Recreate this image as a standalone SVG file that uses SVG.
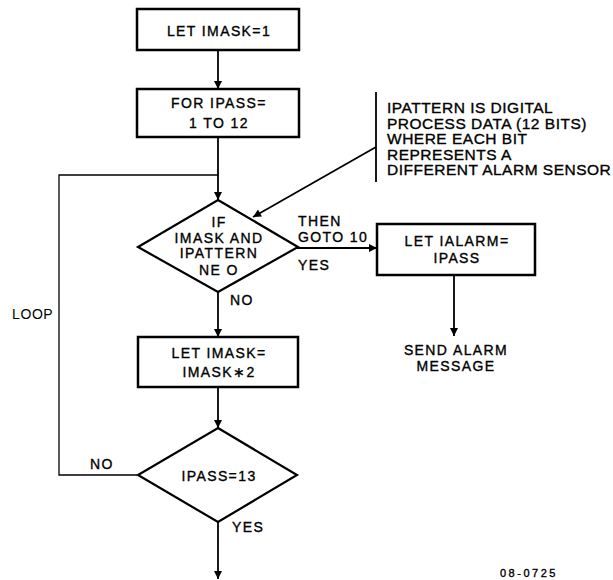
<svg xmlns="http://www.w3.org/2000/svg" width="613" height="580" viewBox="0 0 613 580">
<style>
.box{fill:#fff;stroke:#000;stroke-width:2.5}
.dia{fill:#fff;stroke:#000;stroke-width:2.2}
.ln{fill:none;stroke:#000;stroke-width:1.8}
.thin{fill:none;stroke:#000;stroke-width:1.3}
text{font-family:"Liberation Sans",Arial,sans-serif;font-size:14px;fill:#000;stroke:#000;stroke-width:0.35px;letter-spacing:1.4px}
.c{text-anchor:middle}
.ann{font-size:15.5px;letter-spacing:0.5px}
.sm{font-size:11px;letter-spacing:2.5px}
.lt{stroke-width:0;letter-spacing:0.6px}
</style>
<defs>
<marker id="ah" viewBox="0 0 10 10" refX="10" refY="5" markerWidth="10" markerHeight="8" markerUnits="userSpaceOnUse" orient="auto">
<path d="M0,0 L10,5 L0,10 Z" fill="#000"/>
</marker>
</defs>
<rect width="613" height="580" fill="#fff"/>
<g id="connectors">
<line class="ln" x1="218" y1="50" x2="218" y2="89" marker-end="url(#ah)"/>
<line class="ln" x1="218" y1="137" x2="218" y2="200" marker-end="url(#ah)"/>
<polyline class="thin" points="137,475 59,475 59,175 218,175"/>
<line class="ln" x1="297" y1="248" x2="377" y2="248" marker-end="url(#ah)"/>
<line class="ln" x1="454" y1="275" x2="454" y2="336" marker-end="url(#ah)"/>
<line class="ln" x1="218" y1="292" x2="218" y2="337" marker-end="url(#ah)"/>
<line class="ln" x1="218" y1="387" x2="218" y2="428" marker-end="url(#ah)"/>
<line class="ln" x1="218" y1="522" x2="218" y2="579" marker-end="url(#ah)"/>
<line class="ln" x1="376" y1="147" x2="253" y2="217" marker-end="url(#ah)"/>
</g>
<g id="start">
<rect class="box" x="137" y="9" width="162" height="41"/>
<text class="c" x="219" y="36">LET IMASK=1</text>
</g>
<g id="forloop">
<rect class="box" x="137" y="89" width="162" height="48"/>
<text class="c" x="219" y="108">FOR IPASS=</text>
<text class="c" x="219" y="128">1 TO 12</text>
</g>
<g id="decision1">
<polygon class="dia" points="218,200 298,247 218,292 138,247"/>
<text class="c" x="219" y="227">IF</text>
<text class="c" x="219" y="243">IMASK AND</text>
<text class="c" x="219" y="258">IPATTERN</text>
<text class="c" x="219" y="275">NE O</text>
</g>
<g id="labels1">
<text x="298" y="226">THEN</text>
<text x="298" y="242">GOTO 10</text>
<text x="298" y="270">YES</text>
<text x="230" y="305">NO</text>
</g>
<g id="alarm">
<rect class="box" x="377" y="224" width="158" height="51"/>
<text class="c" x="457" y="246">LET IALARM=</text>
<text class="c" x="457" y="263">IPASS</text>
</g>
<g id="send">
<text class="c" x="456" y="355">SEND ALARM</text>
<text class="c" x="456" y="371">MESSAGE</text>
</g>
<g id="note">
<line class="ln" x1="376" y1="92" x2="376" y2="182"/>
<text class="ann" x="387" y="113">IPATTERN IS DIGITAL</text>
<text class="ann" x="387" y="128.5">PROCESS DATA (12 BITS)</text>
<text class="ann" x="387" y="144">WHERE EACH BIT</text>
<text class="ann" x="387" y="159.5">REPRESENTS A</text>
<text class="ann" x="387" y="175">DIFFERENT ALARM SENSOR</text>
</g>
<g id="loop">
<text class="lt" x="12" y="319">LOOP</text>
</g>
<g id="double">
<rect class="box" x="138" y="337" width="160" height="50"/>
<text class="c" x="219" y="358">LET IMASK=</text>
<text class="c" x="219" y="377">IMASK∗2</text>
</g>
<g id="decision2">
<polygon class="dia" points="218,428 297,475 218,522 138,475"/>
<text class="c" x="219" y="481">IPASS=13</text>
<text x="90" y="469">NO</text>
<text x="232" y="532">YES</text>
</g>
<g id="figno">
<text class="sm" x="500" y="577">08-0725</text>
</g>
</svg>
